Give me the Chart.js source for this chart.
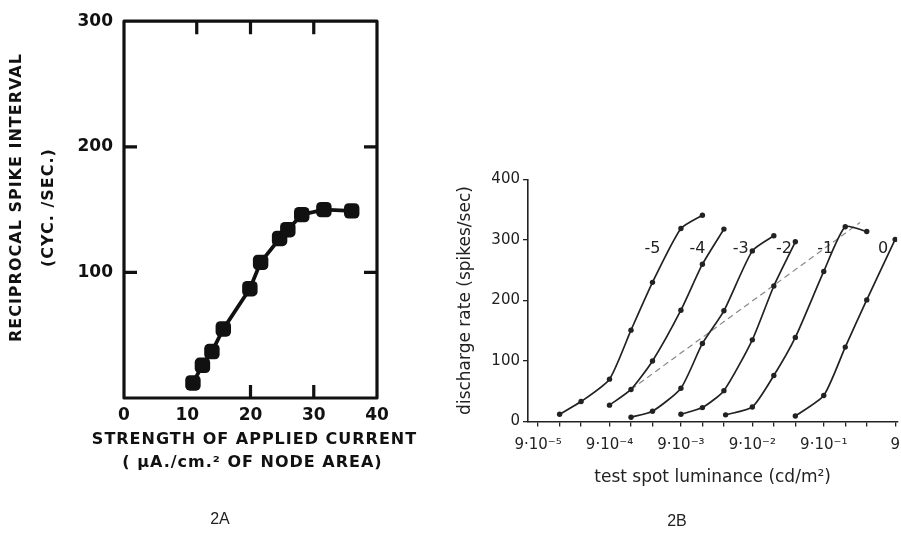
<!DOCTYPE html>
<html>
<head>
<meta charset="utf-8">
<script src="https://cdn.jsdelivr.net/npm/chart.js@4.4.1/dist/chart.umd.min.js"></script>
<style>
  html, body { margin: 0; padding: 0; background: #fff; overflow: hidden; }
  body { width: 901px; height: 533px; position: relative; }
  .panel { position: absolute; }
  .cap { position: absolute; font-family: "Liberation Sans", Arial, sans-serif; font-size: 16px; color: #222; transform: translate(-50%, -50%); }
</style>
</head>
<body>
<div class="panel" style="left:0;top:0;width:440px;height:533px"><canvas id="chartA"></canvas></div>
<div class="panel" style="left:440px;top:150px;width:470px;height:383px"><canvas id="chartB"></canvas></div>
<div class="cap" style="left:220px;top:519px">2A</div>
<div class="cap" style="left:677px;top:521px">2B</div>

<script>
// ---- 2A data ----
const currentA = [10.9, 12.4, 13.9, 15.7, 19.9, 21.6, 24.6, 25.9, 28.1, 31.6, 36.0];
const rateA = [12, 26, 37, 55, 87, 108, 127, 134, 146, 150, 149];
const sideTicksA = [100, 200];
const topTicksA = [11.5, 20, 30];
const bottomTicksA = [20, 30];
const xTitleA = ['STRENGTH OF APPLIED CURRENT', '( μA./cm.² OF NODE AREA)'];
const yTitleA = ['RECIPROCAL SPIKE INTERVAL', '(CYC. /SEC.)'];

// ---- 2B data ----
const lumTicks = [9e-5, 9e-4, 9e-3, 9e-2, 9e-1, 9];
const lumTickLabels = ['9·10⁻⁵', '9·10⁻⁴', '9·10⁻³', '9·10⁻²', '9·10⁻¹', '9'];
const curveNames = ['-5', '-4', '-3', '-2', '-1', '0'];

const lumM5 = [1.8e-4, 3.6e-4, 9e-4, 1.8e-3, 3.6e-3, 9e-3, 1.8e-2];
const rateM5 = [12, 33, 70, 151, 230, 319, 341];
const lumM4 = [9e-4, 1.8e-3, 3.6e-3, 9e-3, 1.8e-2, 3.6e-2];
const rateM4 = [27, 53, 100, 184, 260, 318];
const lumM3 = [1.8e-3, 3.6e-3, 9e-3, 1.8e-2, 3.6e-2, 9e-2, 1.8e-1];
const rateM3 = [7, 17, 55, 129, 183, 282, 307];
const lumM2 = [9e-3, 1.8e-2, 3.6e-2, 9e-2, 1.8e-1, 3.6e-1];
const rateM2 = [12, 23, 51, 135, 224, 297];
const lumM1 = [3.8e-2, 9e-2, 1.8e-1, 3.6e-1, 9e-1, 1.8, 3.6];
const rateM1 = [11, 24, 76, 139, 248, 322, 314];
const lum0 = [3.6e-1, 9e-1, 1.8, 3.6, 9];
const rate0 = [9, 43, 123, 201, 301];

const dashLum = [1.8e-3, 2.9];
const dashRate = [53, 329];

const labelLum = [3.6e-3, 1.53e-2, 6.2e-2, 0.25, 0.94, 6.1];
const labelRate = [285, 285, 285, 285, 285, 285];

const pts = (xs, ys) => xs.map((x, i) => ({ x: x, y: ys[i] }));

// frame + inward ticks for 2A
const frameA = {
  id: 'frameA',
  beforeDatasetsDraw(chart) {
    const { ctx, chartArea: a, scales } = chart;
    const len = 13;
    ctx.save();
    ctx.strokeStyle = '#111';
    ctx.lineWidth = 3.2;
    ctx.lineJoin = 'round';
    ctx.strokeRect(a.left, a.top, a.right - a.left, a.bottom - a.top);
    ctx.beginPath();
    sideTicksA.forEach(v => {
      const y = scales.y.getPixelForValue(v);
      ctx.moveTo(a.left, y); ctx.lineTo(a.left + len, y);
      ctx.moveTo(a.right, y); ctx.lineTo(a.right - len, y);
    });
    topTicksA.forEach(v => {
      const x = scales.x.getPixelForValue(v);
      ctx.moveTo(x, a.top); ctx.lineTo(x, a.top + len);
    });
    bottomTicksA.forEach(v => {
      const x = scales.x.getPixelForValue(v);
      ctx.moveTo(x, a.bottom); ctx.lineTo(x, a.bottom - len);
    });
    ctx.stroke();
    ctx.restore();
  },
  // axis titles, drawn here so they may run wider than the plot box
  afterDraw(chart) {
    const { ctx, chartArea: a } = chart;
    const cx = (a.left + a.right) / 2;
    const cy = (a.top + a.bottom) / 2;
    ctx.save();
    ctx.fillStyle = '#111';
    ctx.font = 'bold 16px "DejaVu Sans", sans-serif';
    ctx.letterSpacing = '1px';
    ctx.textAlign = 'center';
    ctx.textBaseline = 'middle';
    ctx.fillText(xTitleA[0], cx + 4, a.bottom + 42);
    ctx.fillText(xTitleA[1], cx + 2, a.bottom + 65);
    ctx.translate(17, cy - 12);
    ctx.rotate(-Math.PI / 2);
    ctx.fillText(yTitleA[0], 0, 0);
    ctx.fillText(yTitleA[1], -10, 32);
    ctx.restore();
  }
};

const boldFont = { family: '"DejaVu Sans", sans-serif', size: 17, weight: 'bold' };

new Chart(document.getElementById('chartA'), {
  type: 'scatter',
  data: {
    datasets: [{
      data: pts(currentA, rateA),
      showLine: true,
      borderColor: '#111',
      backgroundColor: '#111',
      borderWidth: 3.8,
      pointStyle: 'rectRounded',
      pointRadius: 9,
      pointBorderWidth: 0
    }]
  },
  options: {
    responsive: true,
    maintainAspectRatio: false,
    animation: false,
    layout: { padding: { left: 0, right: 63, top: 21, bottom: 0 } },
    plugins: { legend: { display: false }, tooltip: { enabled: false } },
    scales: {
      x: {
        type: 'linear', min: 0, max: 40,
        afterFit: s => { s.height = 135; },
        grid: { display: false, drawTicks: false },
        border: { display: false },
        ticks: { stepSize: 10, color: '#111', font: boldFont, padding: 7, maxRotation: 0 }
      },
      y: {
        type: 'linear', min: 0, max: 300,
        afterFit: s => { s.width = 124; },
        grid: { display: false, drawTicks: false },
        border: { display: false },
        ticks: { stepSize: 100, color: '#111', font: boldFont, padding: 11, callback: v => v === 0 ? '' : v }
      }
    }
  },
  plugins: [frameA]
});

// curve labels for 2B
const curveLabels = {
  id: 'curveLabels',
  afterDatasetsDraw(chart) {
    const { ctx, scales } = chart;
    ctx.save();
    ctx.fillStyle = '#222';
    ctx.font = '16px "DejaVu Sans", sans-serif';
    ctx.textAlign = 'center';
    ctx.textBaseline = 'middle';
    curveNames.forEach((n, i) => {
      ctx.fillText(n, scales.x.getPixelForValue(labelLum[i]), scales.y.getPixelForValue(labelRate[i]));
    });
    ctx.restore();
  }
};

const curveStyle = {
  showLine: true,
  borderColor: '#222',
  backgroundColor: '#222',
  borderWidth: 1.7,
  pointRadius: 2.7,
  pointBorderWidth: 0,
  tension: 0.2
};

const minorTicks = [];
lumTicks.slice(0, -1).forEach(v => { minorTicks.push(v * 2, v * 4); });
const allTicks = lumTicks.concat(minorTicks).sort((a, b) => a - b);

const lightFont = { family: '"DejaVu Sans", sans-serif', size: 15 };

new Chart(document.getElementById('chartB'), {
  type: 'scatter',
  data: {
    datasets: [
      Object.assign({ data: pts(lumM5, rateM5) }, curveStyle),
      Object.assign({ data: pts(lumM4, rateM4) }, curveStyle),
      Object.assign({ data: pts(lumM3, rateM3) }, curveStyle),
      Object.assign({ data: pts(lumM2, rateM2) }, curveStyle),
      Object.assign({ data: pts(lumM1, rateM1) }, curveStyle),
      Object.assign({ data: pts(lum0, rate0) }, curveStyle),
      {
        data: pts(dashLum, dashRate),
        showLine: true,
        borderColor: '#888',
        borderWidth: 1.2,
        borderDash: [6, 4],
        pointRadius: 0
      }
    ]
  },
  options: {
    responsive: true,
    maintainAspectRatio: false,
    animation: false,
    layout: { padding: { left: 0, right: 11, top: 29.5, bottom: 0 } },
    plugins: { legend: { display: false }, tooltip: { enabled: false } },
    scales: {
      x: {
        type: 'logarithmic', min: 6.5e-5, max: 9.6,
        afterFit: s => { s.height = 111.5; },
        afterBuildTicks: s => { s.ticks = allTicks.map(v => ({ value: v })); },
        grid: { display: true, drawOnChartArea: false, drawTicks: true, tickLength: 5, color: '#222', lineWidth: 1.3 },
        border: { display: true, color: '#222', width: 1.6 },
        ticks: {
          autoSkip: false, maxRotation: 0, color: '#222', font: lightFont, padding: 10,
          callback: v => {
            const i = lumTicks.findIndex(t => Math.abs(t - v) / t < 1e-6);
            return i >= 0 ? lumTickLabels[i] : '';
          }
        },
        title: {
          display: true,
          text: 'test spot luminance (cd/m²)',
          color: '#222',
          font: { family: '"DejaVu Sans", sans-serif', size: 17 },
          padding: { top: 0, bottom: 45 }
        }
      },
      y: {
        type: 'linear', min: 0, max: 400,
        afterFit: s => { s.width = 88; },
        grid: { display: true, drawOnChartArea: false, drawTicks: true, tickLength: 5, color: '#222', lineWidth: 1.3 },
        border: { display: true, color: '#222', width: 1.6 },
        ticks: { stepSize: 100, color: '#222', font: lightFont, padding: 3 },
        title: {
          display: true,
          text: 'discharge rate (spikes/sec)',
          color: '#222',
          font: { family: '"DejaVu Sans", sans-serif', size: 17 },
          padding: { top: 15, bottom: 0 }
        }
      }
    }
  },
  plugins: [curveLabels]
});
</script>
</body>
</html>
